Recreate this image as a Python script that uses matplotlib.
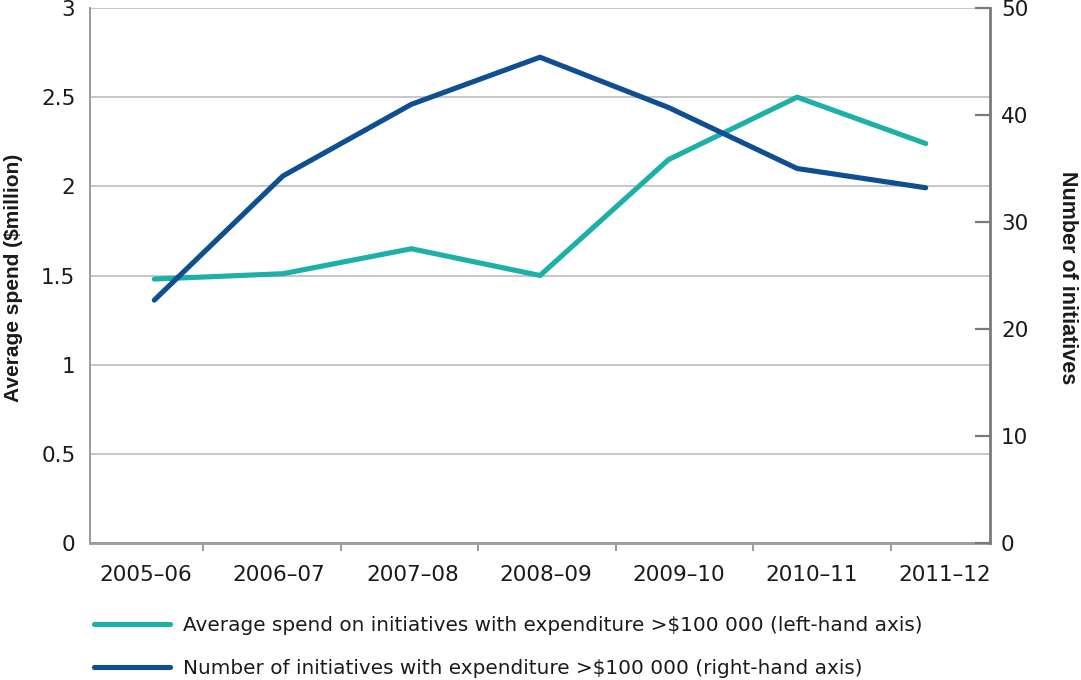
import numpy as np
import matplotlib
matplotlib.use("Agg")
import matplotlib.pyplot as plt
from matplotlib.ticker import FuncFormatter, FixedLocator

plt.rcParams['font.family'] = ['DejaVu Sans']

# ---- data ----
years = ['2005–06', '2006–07', '2007–08', '2008–09', '2009–10', '2010–11', '2011–12']
avg_spend = [1.48, 1.51, 1.65, 1.50, 2.15, 2.50, 2.24]          # $million, left axis
num_initiatives = [22.7, 34.3, 41.0, 45.4, 40.7, 35.0, 33.2]     # count, right axis
left_ticks = [0, 0.5, 1, 1.5, 2, 2.5, 3]
right_ticks = [0, 10, 20, 30, 40, 50]
label_avg = 'Average spend on initiatives with expenditure >$100 000 (left-hand axis)'
label_num = 'Number of initiatives with expenditure >$100 000 (right-hand axis)'

teal = '#1db0a6'
navy = '#0f4f91'
grid_c = '#c6c6c6'
axis_c = '#9a9a9a'
raxis_c = '#7a7a7a'
text_c = '#1a1a1a'
tick_fs = 15.5

W, H = 1081, 680
fig = plt.figure(figsize=(W / 100, H / 100), dpi=100)
L, R, T, B = 90, 990, 8, 543
ax = fig.add_axes([L / W, 1 - B / H, (R - L) / W, (B - T) / H])
ax2 = ax.twinx()

x = np.arange(len(years))
ax.plot(x, avg_spend, color=teal, lw=3.7, solid_capstyle='round', solid_joinstyle='round', zorder=3)
ax2.plot(x, num_initiatives, color=navy, lw=3.7, solid_capstyle='round', solid_joinstyle='round', zorder=3)

ax.set_xlim(-0.5, len(years) - 0.5)
ax.set_ylim(0, 3)
ax2.set_ylim(0, 50)

# grid
ax.set_yticks(left_ticks)
ax.yaxis.set_major_formatter(FuncFormatter(lambda v, p: f'{v:g}'))
ax.yaxis.grid(True, color=grid_c, lw=1.4)
ax.set_axisbelow(True)
ax.tick_params(axis='y', length=0, pad=10.5, labelsize=tick_fs, labelcolor=text_c)

# x axis: tick marks between labels, labels on their own positions
n = len(years)
label_step = 1.036
tick_step = 1.070
label_pos = [-0.065 + label_step * i for i in range(n)]
tick_pos = [0.379 + tick_step * i for i in range(n - 1)]
ax.xaxis.set_major_locator(FixedLocator(tick_pos))
ax.xaxis.set_major_formatter(FuncFormatter(lambda v, p: ''))
ax.xaxis.set_minor_locator(FixedLocator(label_pos))
ax.set_xticklabels(years, minor=True)
ax.tick_params(axis='x', which='major', length=6, width=1.4, color=axis_c, direction='out')
ax.tick_params(axis='x', which='minor', length=0, pad=16, labelsize=tick_fs, labelcolor=text_c)

# spines
for s in ['top', 'right']:
    ax.spines[s].set_visible(False)
ax.spines['left'].set_color(axis_c)
ax.spines['left'].set_linewidth(1.4)
ax.spines['bottom'].set_color(axis_c)
ax.spines['bottom'].set_linewidth(2.0)
for s in ['top', 'left', 'bottom']:
    ax2.spines[s].set_visible(False)
ax2.spines['right'].set_color(raxis_c)
ax2.spines['right'].set_linewidth(2.0)

ax2.set_yticks(right_ticks)
ax2.tick_params(axis='y', direction='in', length=11, width=1.6, color=raxis_c, pad=8,
                labelsize=tick_fs, labelcolor=text_c)

# axis titles
fig.text(4 / W, 1 - 278 / H, 'Average spend ($million)', rotation=90, ha='left', va='center',
         fontsize=15, fontweight='bold', color=text_c, family=['Liberation Sans', 'DejaVu Sans'])
fig.text(1057 / W, 1 - 278 / H, 'Number of initiatives', rotation=270, ha='left', va='center',
         fontsize=15.5, fontweight='bold', color=text_c, family=['Liberation Sans', 'DejaVu Sans'])

# legend
h1 = ax.get_lines()[0]
h2 = ax2.get_lines()[0]
fig.legend([h1, h2], [label_avg, label_num], loc='upper left',
           bbox_to_anchor=(94 / W, 1 - 616 / H), frameon=False, fontsize=14.4,
           handlelength=3.8, handletextpad=0.65, labelspacing=1.2, borderpad=0,
           borderaxespad=0, labelcolor=text_c)

fig.savefig('out.png', dpi=100)
